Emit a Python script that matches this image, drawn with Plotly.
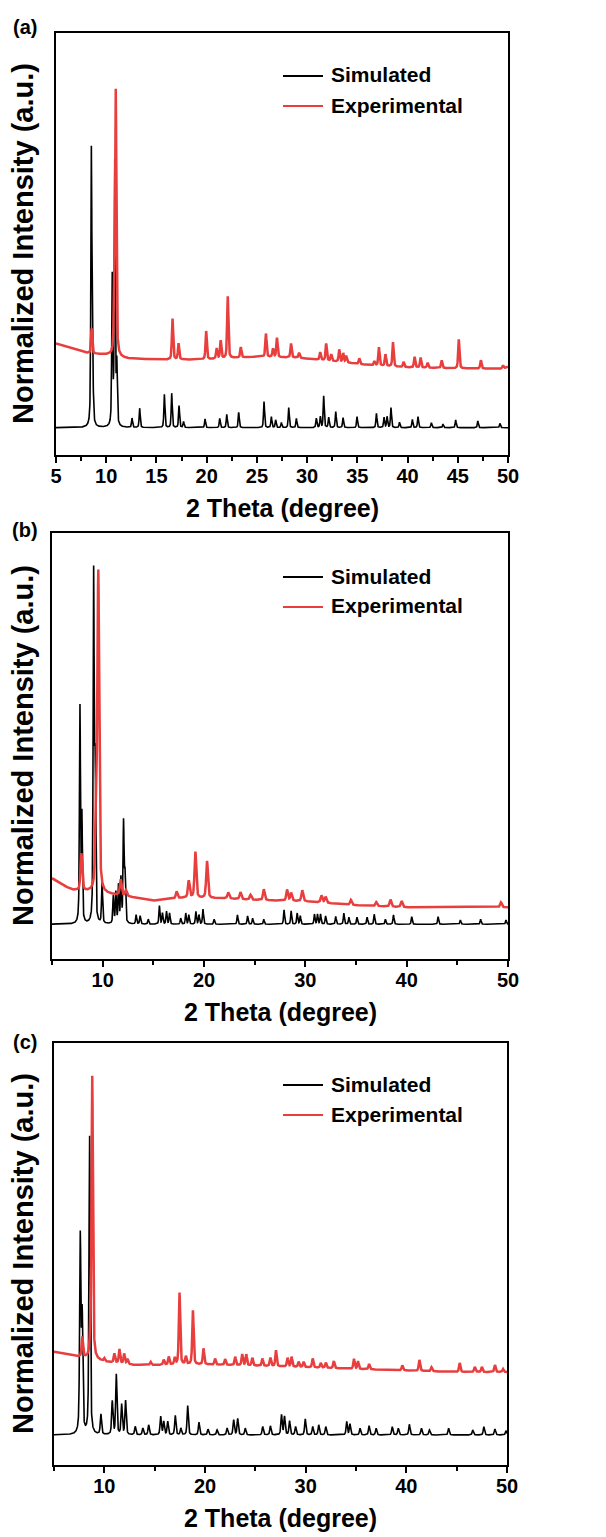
import numpy as np
import plotly.graph_objects as go

W, H = 606, 1537
FONT = "Liberation Sans"
RED = "rgb(232,62,62)"

# ---------------- Panel (a) ----------------
a_sim_pos = [8.52, 8.64, 10.6, 10.85, 11.05, 12.57, 13.33, 15.79, 16.52, 17.25, 17.7, 19.84, 21.3, 22.0,
             23.19, 25.71, 26.44, 26.87, 27.44, 28.17, 28.93, 30.92, 31.32, 31.65, 32.15, 32.85, 33.58,
             34.97, 36.9, 37.66, 37.96, 38.35, 39.2, 40.48, 41.04, 42.37, 43.53, 44.79, 47.0, 49.2]
a_sim_hgt = [272, 75, 148, 262, 60, 9.3, 19.3, 33.3, 34.3, 22, 6, 8.7, 9.3, 13.3,
             15.3, 26, 11, 7.7, 5, 20, 9.3, 9.3, 11, 31.7, 10.3, 16, 10,
             11, 14.3, 10.3, 11, 20, 5.3, 8.3, 11, 5, 3.7, 7.7, 6.7, 4.3]
a_exp_base_x = [5, 6.5, 8.3, 10.3, 12, 16, 20, 25, 29, 33, 36, 40, 45, 49.5, 50]
a_exp_base_y = [84.3, 79.3, 74.3, 72.7, 69.3, 68.0, 68.3, 71, 70, 66, 62.7, 60.3, 59.3, 59.0, 61]
a_exp_pos = [8.55, 10.8, 10.95, 16.6, 17.2, 19.95, 21.0, 21.4, 22.1, 23.4, 25.9, 26.6, 27.0, 28.4,
             29.2, 31.3, 31.9, 32.4, 33.2, 33.6, 33.9, 35.2, 36.7, 37.15, 37.8, 38.55, 39.6, 40.7,
             41.3, 42.0, 43.4, 45.1, 47.3, 49.5]
a_exp_hgt = [25, 42, 262, 41, 16, 28.3, 10.3, 18, 61.7, 10.3, 23.3, 8.3, 19.3, 14,
             5, 7.7, 17, 6.7, 12.3, 9, 6.7, 5.7, 4, 18.3, 11.7, 24.3, 5.3, 10.7,
             10, 5, 7.7, 29, 8.3, 3.3]

# ---------------- Panel (b) ----------------
b_sim_pos = [7.76, 7.95, 9.11, 9.25, 9.94, 11.05, 11.3, 11.56, 11.8, 12.06, 12.2, 13.3, 13.7, 14.5,
             15.6, 15.9, 16.3, 16.6, 17.7, 18.2, 18.5, 19.2, 19.5, 19.9, 21.0, 23.3, 24.3, 24.8,
             25.9, 27.9, 28.6, 29.2, 29.5, 30.9, 31.2, 31.5, 32.0, 33.0, 33.8, 34.3, 35.1, 36.1,
             36.8, 37.9, 38.7, 40.5, 43.1, 45.3, 47.3, 49.8]
b_sim_hgt = [215, 105, 345, 150, 41, 27.7, 31, 37.7, 44.3, 100, 48, 9.3, 8.3, 5,
             18.3, 11, 12.7, 11, 6, 11, 9.3, 12.7, 9.3, 15, 5, 9.3, 8.3, 6,
             5, 14.3, 13.3, 11, 8.3, 10, 10, 10, 8.3, 7.7, 11, 7, 7, 7,
             10, 5, 9.3, 7.7, 7.7, 4.3, 5, 4.3]
b_exp_base_x = [5, 6, 7, 8.5, 10, 12.5, 15, 18, 22, 25, 30, 35, 40, 45, 50]
b_exp_base_y = [46, 39.3, 34.3, 32.7, 31, 27.7, 23.5, 26.5, 26, 24.3, 23, 19, 17, 17, 17]
b_exp_pos = [7.9, 9.35, 9.57, 11.78, 12.3, 17.3, 18.5, 19.15, 20.3, 22.4, 23.6, 24.6, 25.9, 28.2,
             28.6, 29.7, 31.6, 32.0, 34.5, 37.0, 38.4, 39.5, 49.3]
b_exp_hgt = [37, 80, 315, 16, 6, 7, 17, 46, 37, 6, 7, 5, 11, 11,
             8, 11, 7, 6, 5, 4, 7, 6, 5]

# ---------------- Panel (c) ----------------
c_sim_pos = [7.61, 7.8, 8.54, 9.66, 10.79, 11.19, 11.72, 12.11, 13.07, 13.83, 14.4, 15.6, 15.9, 16.3,
             17.05, 17.6, 18.28, 19.4, 20.3, 21.2, 22.2, 22.85, 23.25, 24.0, 25.74, 26.5, 27.6, 27.9,
             28.4, 29.0, 29.96, 30.7, 31.3, 32.0, 34.08, 34.4, 35.4, 36.3, 37.0, 38.6, 39.2, 40.3,
             41.5, 42.3, 44.2, 46.6, 47.7, 48.8, 49.9]
c_sim_hgt = [195, 115, 298, 20, 33.3, 60, 30, 34, 8.3, 6.7, 10, 18.3, 13.3, 13.3,
             19.3, 6.7, 29.3, 12.7, 5.7, 5, 6.7, 15, 16.3, 6.7, 8.3, 9, 20, 18.3,
             14, 8.3, 16, 8.3, 10, 8.3, 13.3, 11, 6.7, 9.3, 6.7, 8.3, 6.7, 10.7,
             6.7, 5, 6.7, 5, 8.3, 6, 4.3]
c_exp_base_x = [5, 7.3, 9, 10, 13, 15, 20, 25, 30, 35, 40, 45, 50]
c_exp_base_y = [83.3, 78.3, 75.7, 73.3, 70, 70, 70.5, 69.3, 67.7, 66, 64.5, 63, 63]
c_exp_pos = [7.81, 8.6, 8.8, 10.0, 11.0, 11.5, 11.97, 12.3, 14.6, 15.9, 16.4, 17.0, 17.47, 18.1,
             18.8, 19.85, 21.0, 22.0, 23.0, 23.7, 24.1, 24.7, 25.7, 26.5, 27.05, 28.2, 28.6, 29.3,
             29.8, 30.7, 31.5, 32.0, 32.8, 34.8, 35.2, 36.3, 39.6, 41.3, 42.5, 45.3, 46.8, 47.5,
             48.8, 49.6]
c_exp_hgt = [20, 15, 282, 3, 9, 14, 10, 5, 3, 5, 8, 6.7, 72, 8,
             54, 16, 6, 5.7, 8.3, 11, 11, 7.7, 7.3, 8.3, 16, 8.7, 10, 5.3,
             5.3, 9, 4.7, 5.3, 7, 10, 7.7, 5.3, 5, 11, 4, 9, 5, 5,
             7, 3]

series_names = ["Simulated", "Experimental"]
panel_labels = ["(a)", "(b)", "(c)"]
x_title = "2 Theta (degree)"
y_title = "Normalized Intensity (a.u.)"


def pattern(x, pos, hgt, fwhm, eta=0.5):
    assert len(pos) == len(hgt)
    g = fwhm / 2.0
    y = np.zeros_like(x)
    for p, h in zip(pos, hgt):
        d = (x - p) / g
        y += h * (eta / (1 + d * d) + (1 - eta) * np.exp(-np.log(2) * d * d))
    return y


def grid(*poslists):
    g = np.round(np.arange(5.0, 50.0001, 0.01), 4)
    return np.union1d(g, np.concatenate([np.asarray(p, float) for p in poslists]))


# pixel layout of the three frames (left, right, top, bottom)
frames = [(56, 508, 33, 455), (52, 508, 533, 959), (54, 507, 1043, 1465)]
yranges = [(-27.3, 394.7), (-34.7, 391.3), (-30, 392)]
legend_y = [(76, 106), (577, 607), (1085, 1115)]
label_y = [27, 530, 1042]
panels = [
    (a_sim_pos, a_sim_hgt, a_exp_base_x, a_exp_base_y, a_exp_pos, a_exp_hgt, 0.12, 0.15),
    (b_sim_pos, b_sim_hgt, b_exp_base_x, b_exp_base_y, b_exp_pos, b_exp_hgt, 0.12, 0.2),
    (c_sim_pos, c_sim_hgt, c_exp_base_x, c_exp_base_y, c_exp_pos, c_exp_hgt, 0.15, 0.16),
]


def px(x):
    return x / W


def py(y):
    return 1 - y / H


fig = go.Figure()
annotations = []
shapes = []
layout = {}
for i, (sp, sh, bx, by, ep, eh, ws, we) in enumerate(panels):
    n = "" if i == 0 else str(i + 1)
    xs = grid(sp)
    xe = grid(ep, bx)
    ys = pattern(xs, sp, sh, ws)
    ye = np.interp(xe, bx, by) + pattern(xe, ep, eh, we)
    fig.add_trace(go.Scatter(x=xs, y=ys, mode="lines", name=series_names[0],
                             line=dict(color="black", width=1.6), xaxis="x" + n, yaxis="y" + n,
                             showlegend=False))
    fig.add_trace(go.Scatter(x=xe, y=ye, mode="lines", name=series_names[1],
                             line=dict(color=RED, width=2.5), xaxis="x" + n, yaxis="y" + n,
                             showlegend=False))
    l, r, t, b = frames[i]
    if i == 0:
        major = dict(tick0=5, dtick=5)
        minor = dict(tick0=5, dtick=2.5)
    else:
        major = dict(tick0=10, dtick=10)
        minor = dict(tick0=5, dtick=5)
    layout["xaxis" + n] = dict(
        domain=[px(l), px(r)], range=[5, 50], anchor="y" + n, automargin=False,
        showline=True, linewidth=2, linecolor="black", mirror=True,
        ticks="outside", ticklen=6, tickwidth=2, tickcolor="black", tickmode="linear", **major,
        ticklabelstandoff=-4,
        minor=dict(ticks="outside", ticklen=4, tickwidth=2, tickcolor="black", showgrid=False, **minor),
        tickfont=dict(family=FONT, size=20, color="black", weight="bold"),
        showgrid=False, zeroline=False,
    )
    layout["yaxis" + n] = dict(
        domain=[py(b), py(t)], range=list(yranges[i]), anchor="x" + n, automargin=False,
        showline=True, linewidth=2, linecolor="black", mirror=True,
        showticklabels=False, ticks="", showgrid=False, zeroline=False,
    )
    # axis titles
    annotations.append(dict(text=x_title, x=px((l + r) / 2), y=py(b + 53), xref="paper", yref="paper",
                            xanchor="center", yanchor="middle", showarrow=False,
                            font=dict(family=FONT, size=25, color="black", weight="bold")))
    annotations.append(dict(text=y_title, x=px(23), y=py((t + b) / 2), xref="paper", yref="paper",
                            xanchor="center", yanchor="middle", showarrow=False, textangle=-90,
                            font=dict(family=FONT, size=29, color="black", weight="bold")))
    # panel label
    annotations.append(dict(text=panel_labels[i], x=px(25), y=py(label_y[i]), xref="paper", yref="paper",
                            xanchor="center", yanchor="middle", showarrow=False,
                            font=dict(family=FONT, size=20, color="black", weight="bold")))
    # legend
    for k, (col, nm) in enumerate([("black", series_names[0]), (RED, series_names[1])]):
        yy = legend_y[i][k]
        shapes.append(dict(type="line", xref="paper", yref="paper", x0=px(283), x1=px(323),
                           y0=py(yy), y1=py(yy), line=dict(color=col, width=2)))
        annotations.append(dict(text=nm, x=px(329), y=py(yy - 1), xref="paper", yref="paper",
                                xanchor="left", yanchor="middle", showarrow=False,
                                font=dict(family=FONT, size=21, color="black", weight="bold")))

fig.update_layout(width=W, height=H, margin=dict(l=0, r=0, t=0, b=0, pad=0, autoexpand=False),
                  plot_bgcolor="white", paper_bgcolor="white", showlegend=False,
                  annotations=annotations, shapes=shapes, **layout)
fig.write_html(
    "out.html",
    config={"displayModeBar": False},
    post_script=("document.documentElement.style.overflow='hidden';"
                 "document.body.style.overflow='hidden';"
                 "document.body.style.margin='0';"),
)
